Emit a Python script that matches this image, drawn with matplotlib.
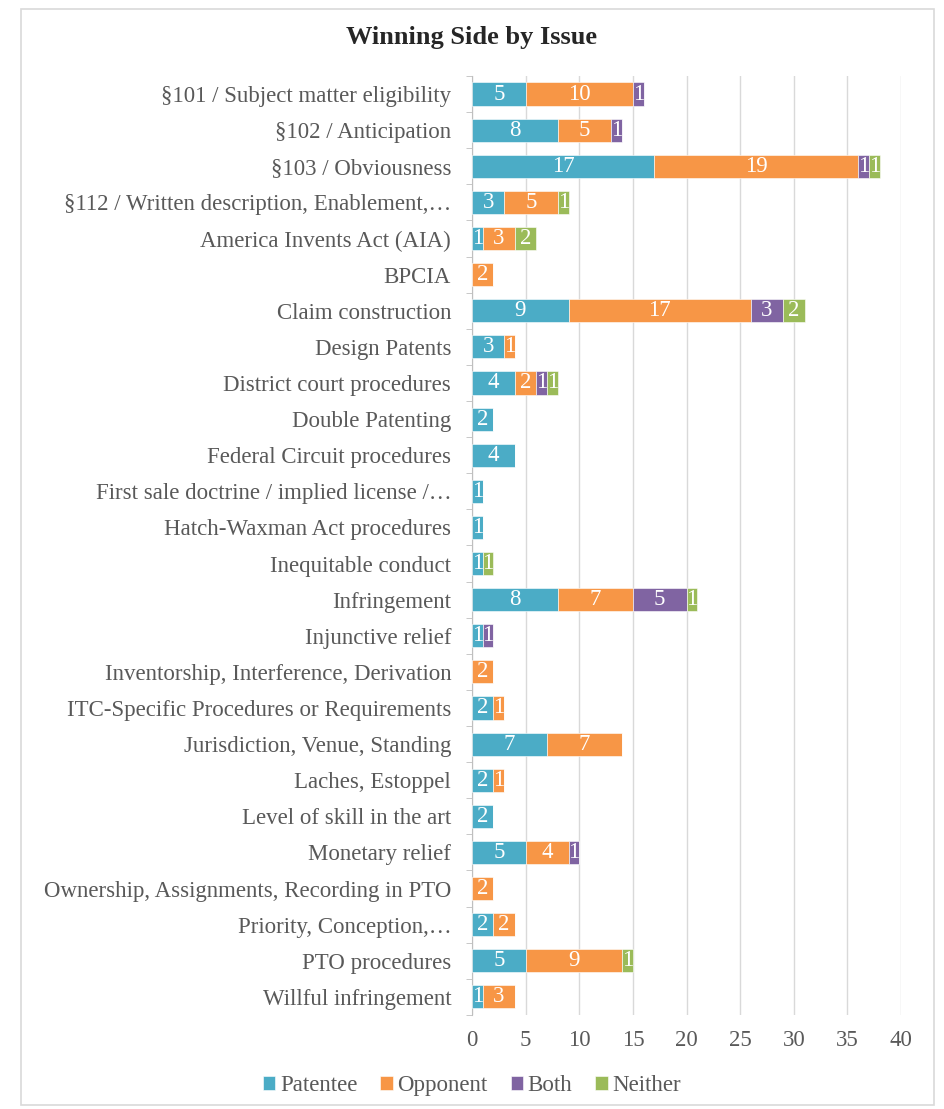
import numpy as np
import matplotlib.pyplot as plt
from matplotlib.patches import Rectangle

plt.rcParams['font.family'] = ['Liberation Serif', 'DejaVu Serif']

issues = [
    "§101 / Subject matter eligibility",
    "§102 / Anticipation",
    "§103 / Obviousness",
    "§112 / Written description, Enablement,…",
    "America Invents Act (AIA)",
    "BPCIA",
    "Claim construction",
    "Design Patents",
    "District court procedures",
    "Double Patenting",
    "Federal Circuit procedures",
    "First sale doctrine / implied license /…",
    "Hatch-Waxman Act procedures",
    "Inequitable conduct",
    "Infringement",
    "Injunctive relief",
    "Inventorship, Interference, Derivation",
    "ITC-Specific Procedures or Requirements",
    "Jurisdiction, Venue, Standing",
    "Laches, Estoppel",
    "Level of skill in the art",
    "Monetary relief",
    "Ownership, Assignments, Recording in PTO",
    "Priority, Conception,…",
    "PTO procedures",
    "Willful infringement",
]
patentee = [5, 8, 17, 3, 1, 0, 9, 3, 4, 2, 4, 1, 1, 1, 8, 1, 0, 2, 7, 2, 2, 5, 0, 2, 5, 1]
opponent = [10, 5, 19, 5, 3, 2, 17, 1, 2, 0, 0, 0, 0, 0, 7, 0, 2, 1, 7, 1, 0, 4, 2, 2, 9, 3]
both     = [1, 1, 1, 0, 0, 0, 3, 0, 1, 0, 0, 0, 0, 0, 5, 1, 0, 0, 0, 0, 0, 1, 0, 0, 0, 0]
neither  = [0, 0, 1, 1, 2, 0, 2, 0, 1, 0, 0, 0, 0, 1, 1, 0, 0, 0, 0, 0, 0, 0, 0, 0, 1, 0]

series = [("Patentee", patentee, "#4BACC6"),
          ("Opponent", opponent, "#F79646"),
          ("Both", both, "#8064A2"),
          ("Neither", neither, "#9BBB59")]

grey = "#595959"
fig = plt.figure(figsize=(9.44, 11.09), dpi=100)
ax = fig.add_axes([0.5, 0.0848, 0.4545, 0.8467])

y = np.arange(len(issues))
left = np.zeros(len(issues))
for name, vals, col in series:
    vals = np.array(vals, dtype=float)
    bars = ax.barh(y, vals, left=left, height=0.64, color=col, label=name,
                   edgecolor="white", linewidth=0.4, zorder=3)
    for b, v in zip(bars, vals):
        if v > 0:
            ax.text(b.get_x() + b.get_width() / 2, b.get_y() + b.get_height() / 2,
                    f"{int(v)}", ha="center", va="center", color="white",
                    fontsize=16.5, zorder=4)
    left += vals

ax.set_ylim(len(issues) - 0.5, -0.5)
ax.set_xlim(0, 40)
ax.set_xticks(range(0, 41, 5))
ax.set_yticks(y)
ax.set_yticklabels(issues, fontsize=16.5, color=grey)
ax.set_yticks(np.arange(-0.5, len(issues), 1), minor=True)
ax.tick_params(axis="y", which="major", length=0, pad=15)
ax.tick_params(axis="y", which="minor", length=4, color="#BFBFBF")
ax.tick_params(axis="x", length=0, labelsize=16.5, labelcolor=grey, pad=11)
ax.grid(axis="x", color="#D9D9D9", linewidth=1, zorder=0)
for s in ["top", "right", "bottom"]:
    ax.spines[s].set_visible(False)
ax.spines["left"].set_color("#BFBFBF")

fig.text(0.5, 0.966, "Winning Side by Issue", ha="center", va="center",
         fontsize=19, fontweight="bold", color="#262626")

fig.legend(loc="center", bbox_to_anchor=(0.5, 0.021), ncol=4, frameon=False,
           fontsize=16.5, handlelength=0.55, handleheight=0.55, handletextpad=0.2,
           columnspacing=1.0, labelcolor=grey)

fig.patches.append(Rectangle((21 / 944, 1 - 1105 / 1109), (934 - 21) / 944,
                             (1105 - 9) / 1109, transform=fig.transFigure,
                             fill=False, edgecolor="#D9D9D9", linewidth=1.2))

fig.savefig("out.png", dpi=100)
